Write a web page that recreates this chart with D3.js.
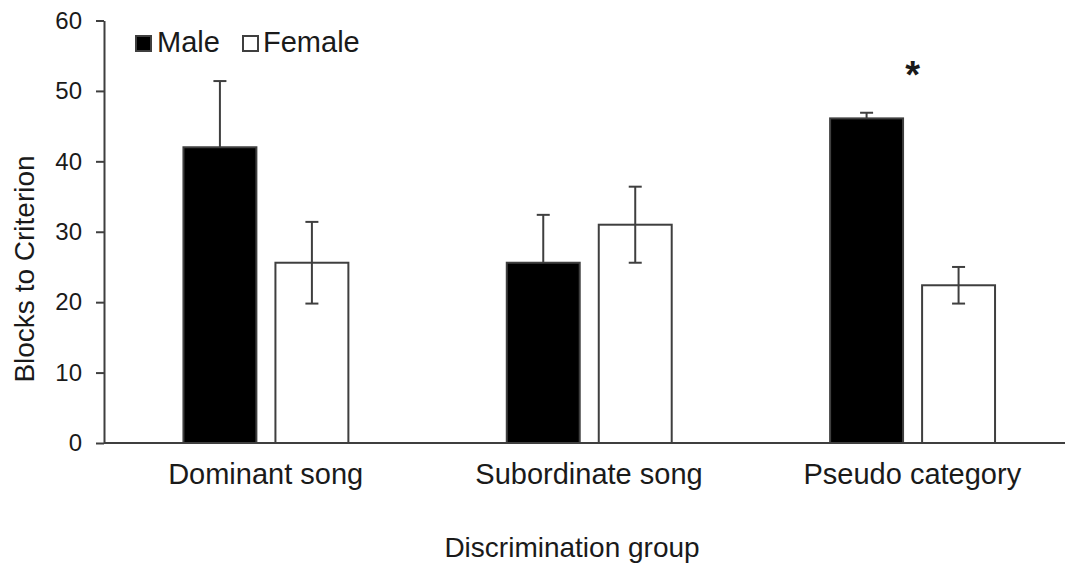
<!DOCTYPE html>
<html>
<head>
<meta charset="utf-8">
<script src="https://cdn.jsdelivr.net/npm/d3@7"></script>
<style>
  html, body { margin: 0; padding: 0; background: #fff; }
  svg { display: block; font-family: "Liberation Sans", Arial, sans-serif; }
</style>
</head>
<body>
<svg id="chart" width="1065" height="567"></svg>
<script>
const categories = ["Dominant song", "Subordinate song", "Pseudo category"];
const series = ["Male", "Female"];
const maleValues = [42.0, 25.6, 46.1];
const maleErrors = [9.4, 6.8, 0.8];
const femaleValues = [25.6, 31.0, 22.4];
const femaleErrors = [5.8, 5.4, 2.6];
const yTicks = [0, 10, 20, 30, 40, 50, 60];
const significance = ["", "", "*"];

const svg = d3.select("#chart");
const axisColor = "#3f3f3f";
const textColor = "#1a1a1a";

const y = d3.scaleLinear().domain([0, 60]).range([443, 20.5]);
const x0 = d3.scaleBand().domain(categories).range([104, 1074]).padding(0);
const bw = x0.bandwidth();
const x1 = d3.scaleBand().domain(series).range([bw * 0.2457, bw * 0.7558]).paddingInner(0.207);

const data = categories.map((c, i) => ({
  cat: c,
  bars: [
    { s: "Male", v: maleValues[i], e: maleErrors[i], fill: "#000", up: true },
    { s: "Female", v: femaleValues[i], e: femaleErrors[i], fill: "#fff", up: false }
  ],
  sig: significance[i]
}));

// Y axis
const yAxis = d3.axisLeft(y).tickValues(yTicks).tickSize(8).tickPadding(14).tickSizeOuter(0);
const gy = svg.append("g").attr("transform", "translate(104,0)").call(yAxis);
gy.select(".domain").attr("stroke", axisColor).attr("stroke-width", 2);
gy.selectAll(".tick line").attr("stroke", axisColor).attr("stroke-width", 2);
gy.selectAll(".tick text").attr("fill", textColor).style("font-size", "24px")
  .style("font-family", "'Liberation Sans', Arial, sans-serif");

// Bars
const groups = svg.append("g").selectAll("g").data(data).join("g")
  .attr("transform", d => `translate(${x0(d.cat)},0)`);

groups.selectAll("rect").data(d => d.bars).join("rect")
  .attr("x", d => x1(d.s))
  .attr("y", d => y(d.v))
  .attr("width", x1.bandwidth())
  .attr("height", d => y(0) - y(d.v))
  .attr("fill", d => d.fill)
  .attr("stroke", axisColor)
  .attr("stroke-width", 2);

// Error bars
const eb = groups.selectAll("g.err").data(d => d.bars).join("g").attr("class", "err");
eb.append("line")
  .attr("x1", d => x1(d.s) + x1.bandwidth() / 2)
  .attr("x2", d => x1(d.s) + x1.bandwidth() / 2)
  .attr("y1", d => d.up ? y(d.v) : y(d.v - d.e))
  .attr("y2", d => y(d.v + d.e))
  .attr("stroke", axisColor).attr("stroke-width", 2);
eb.append("line")
  .attr("x1", d => x1(d.s) + x1.bandwidth() / 2 - 6.5)
  .attr("x2", d => x1(d.s) + x1.bandwidth() / 2 + 6.5)
  .attr("y1", d => y(d.v + d.e))
  .attr("y2", d => y(d.v + d.e))
  .attr("stroke", axisColor).attr("stroke-width", 2);
eb.filter(d => !d.up).append("line")
  .attr("x1", d => x1(d.s) + x1.bandwidth() / 2 - 6.5)
  .attr("x2", d => x1(d.s) + x1.bandwidth() / 2 + 6.5)
  .attr("y1", d => y(d.v - d.e))
  .attr("y2", d => y(d.v - d.e))
  .attr("stroke", axisColor).attr("stroke-width", 2);

// X axis line
svg.append("line")
  .attr("x1", 104).attr("x2", 1074)
  .attr("y1", y(0)).attr("y2", y(0))
  .attr("stroke", axisColor).attr("stroke-width", 2);

// Category labels
svg.append("g").selectAll("text").data(categories).join("text")
  .attr("x", d => x0(d) + bw / 2)
  .attr("y", 484)
  .attr("text-anchor", "middle")
  .attr("fill", textColor)
  .style("font-size", "29px")
  .text(d => d);

// Significance marks
svg.append("g").selectAll("text").data(data.filter(d => d.sig)).join("text")
  .attr("x", d => x0(d.cat) + (x1("Male") + x1("Female") + x1.bandwidth()) / 2)
  .attr("y", 88)
  .attr("text-anchor", "middle")
  .attr("fill", textColor)
  .style("font-size", "38px")
  .style("font-weight", "bold")
  .text(d => d.sig);

// Axis titles
svg.append("text")
  .attr("x", 572).attr("y", 557)
  .attr("text-anchor", "middle")
  .attr("fill", textColor)
  .style("font-size", "28px")
  .text("Discrimination group");

svg.append("text")
  .attr("transform", "translate(34,269) rotate(-90)")
  .attr("text-anchor", "middle")
  .attr("fill", textColor)
  .style("font-size", "28px")
  .text("Blocks to Criterion");

// Legend
const legend = svg.append("g");
const legendItems = [
  { s: "Male", fill: "#000", x: 136, tx: 157 },
  { s: "Female", fill: "#fff", x: 243, tx: 263 }
];
legendItems.forEach(it => {
  legend.append("rect")
    .attr("x", it.x).attr("y", 36).attr("width", 15).attr("height", 15)
    .attr("fill", it.fill).attr("stroke", axisColor).attr("stroke-width", 2);
  legend.append("text")
    .attr("x", it.tx).attr("y", 52)
    .attr("fill", textColor)
    .style("font-size", "29px")
    .text(it.s);
});
</script>
</body>
</html>
